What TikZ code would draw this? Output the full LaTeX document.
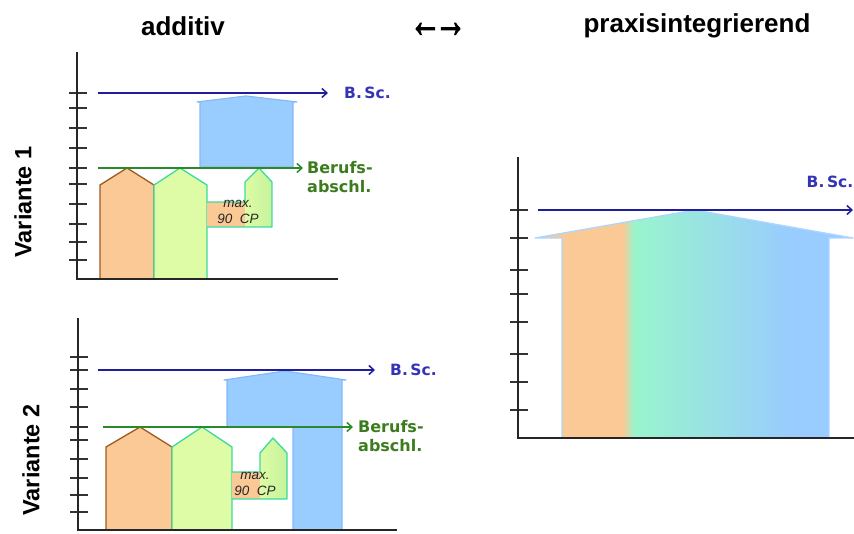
\documentclass[tikz,border=0pt]{standalone}
\usepackage{fontspec}
\setmainfont{Liberation Sans}
\newfontfamily\dejavu{DejaVu Sans}
\newfontfamily\arrowfont[FakeBold=2.5]{Liberation Sans}
\usetikzlibrary{arrows.meta}

\definecolor{peach}{HTML}{FBC995}
\definecolor{peachline}{HTML}{9C5A22}
\definecolor{lime}{HTML}{DDFCA5}
\definecolor{limedark}{HTML}{C6F29C}
\definecolor{limeline}{HTML}{3CDB9E}
\definecolor{mint}{HTML}{99F5CC}
\definecolor{sky}{HTML}{99CCFF}
\definecolor{skyline}{HTML}{84B8F8}
\definecolor{bscblue}{HTML}{1E1E9E}
\definecolor{bsctext}{HTML}{3434B4}
\definecolor{berufgreen}{HTML}{2A8A2A}
\definecolor{beruftext}{HTML}{3C7C1E}

\begin{document}
\begin{tikzpicture}[x=1pt,y=-1pt,
  axis/.style={line width=1.8pt, black!85},
  tick/.style={line width=1.6pt, black!80},
  bscline/.style={line width=1.5pt, bscblue, -{Straight Barb[length=5pt,width=9pt,line width=1.5pt]}},
  berufline/.style={line width=1.5pt, berufgreen, -{Straight Barb[length=5pt,width=9pt,line width=1.5pt]}},
  title/.style={font=\bfseries\fontsize{26}{30}\selectfont, inner sep=0pt},
  variante/.style={font=\bfseries\fontsize{23.5}{28}\selectfont, rotate=90, inner sep=0pt},
  bsclabel/.style={font=\dejavu\bfseries\fontsize{15.5}{18}\selectfont, text=bsctext, inner sep=0pt},
  beruflabel/.style={font=\dejavu\bfseries\fontsize{16}{19}\selectfont, text=beruftext, align=left, anchor=west, inner sep=0pt},
  cplabel/.style={font=\itshape\fontsize{13.5}{16}\selectfont, text=black!85, align=center, inner sep=0pt},
  orangehouse/.style={fill=peach, draw=peachline, line width=1.3pt, line join=round},
  greenhouse/.style={fill=lime, draw=limeline, line width=1.3pt, line join=round},
  bluehouse/.style={fill=sky, draw=skyline, line width=1.2pt, line join=round},
  smallline/.style={draw=limeline, line width=1.3pt, line join=round}
]
\useasboundingbox (0,0) rectangle (854,534);

% titles
\node[title] (additiv) at (183,26) {additiv};
\node[font=\arrowfont\fontsize{48}{52}\selectfont, inner sep=0pt, xscale=0.66] (swap) at (438,30) {←\kern-10pt→};
\node[title] (praxis) at (697,26) {praxisintegrierend};

\node[variante] (var1) at (23,202) {Variante 1};
\node[variante] (var2) at (31,460) {Variante 2};

% Variante 1
\coordinate (v1top) at (77,52);
\coordinate (v1o) at (77,279);
\coordinate (v1end) at (338,279);
\foreach \y in {93,108,128,148,168,184,204,224,242,260}
  \draw[tick] (69,\y) -- (87,\y);

\draw[bluehouse] (200,167) -- (200,102) -- (197,102) -- (246,96) -- (297,102)
  -- (293,102) -- (293,167) -- cycle;
\draw[orangehouse] (100,279) -- (100,185) -- (127,168) -- (154,185) -- (154,279) -- cycle;
\draw[greenhouse] (154,279) -- (154,185) -- (180,168) -- (207,185) -- (207,279) -- cycle;
\fill[peach] (207,202) rectangle (245,227);
\shade[left color=lime, right color=limedark] (245,227) -- (245,182) -- (259,168)
  -- (272,182) -- (272,227) -- cycle;
\draw[smallline] (207,202) -- (245,202) -- (245,182) -- (259,168) -- (272,182)
  -- (272,227) -- (207,227);
\node[cplabel] (cp1) at (238,212) {max.\\90~~CP};

\draw[axis] (v1top) -- (v1o) -- (v1end);

\coordinate (bsc1a) at (98,93);
\coordinate (bsc1b) at (328,93);
\node[bsclabel, anchor=west] (bsc1) at (344,93) {B.\,Sc.};
\draw[bscline] (bsc1a) -- (bsc1b);
\coordinate (beruf1a) at (98,168);
\coordinate (beruf1b) at (303,168);
\node[beruflabel] (beruf1) at (307,177.5) {Berufs-\\abschl.};
\draw[berufline] (beruf1a) -- (beruf1b);

% Variante 2
\coordinate (v2top) at (78,318);
\coordinate (v2o) at (78,530);
\coordinate (v2end) at (397,530);
\foreach \y in {357,370,389,407,427,440,459,478,495,512}
  \draw[tick] (70,\y) -- (88,\y);

\draw[bluehouse] (227,427) -- (227,380) -- (224,380) -- (285,371) -- (346,380)
  -- (342,380) -- (342,530) -- (293,530) -- (293,427) -- cycle;
\draw[orangehouse] (106,530) -- (106,447) -- (140,427) -- (172,447) -- (172,530) -- cycle;
\draw[greenhouse] (172,530) -- (172,447) -- (202,427) -- (232,447) -- (232,530) -- cycle;
\fill[peach] (232,472) rectangle (260,499);
\shade[left color=lime, right color=limedark] (260,499) -- (260,453) -- (273,438)
  -- (287,453) -- (287,499) -- cycle;
\draw[smallline] (232,472) -- (260,472) -- (260,453) -- (273,438) -- (287,453)
  -- (287,499) -- (232,499);
\node[cplabel] (cp2) at (255,484) {max.\\90~~CP};

\draw[axis] (v2top) -- (v2o) -- (v2end);

\coordinate (bsc2a) at (98,370);
\coordinate (bsc2b) at (375,370);
\node[bsclabel, anchor=west] (bsc2) at (390,370) {B.\,Sc.};
\draw[bscline] (bsc2a) -- (bsc2b);
\coordinate (beruf2a) at (103,427);
\coordinate (beruf2b) at (353,427);
\node[beruflabel] (beruf2) at (358,436.5) {Berufs-\\abschl.};
\draw[berufline] (beruf2a) -- (beruf2b);

% praxisintegrierend
\coordinate (p3top) at (518,157);
\coordinate (p3o) at (518,438);
\coordinate (p3end) at (854,438);
\foreach \y in {210,238,270,294,322,354,382,410}
  \draw[tick] (510,\y) -- (528,\y);

\begin{scope}
  \clip (562,438) -- (562,238) -- (535,238) -- (695,210) -- (853,238)
    -- (829,238) -- (829,438) -- cycle;
  \fill[peach] (530,200) rectangle (623,440);
  \shade[left color=peach, right color=mint] (623,200) rectangle (634,440);
  \shade[left color=mint, right color=sky] (634,200) rectangle (790,440);
  \fill[sky] (790,200) rectangle (856,440);
\end{scope}
\draw[draw=sky!80!white, line width=1.3pt, line join=round]
  (562,438) -- (562,238) -- (535,238) -- (695,210) -- (853,238)
  -- (829,238) -- (829,438);

\draw[axis] (p3top) -- (p3o) -- (p3end);

\coordinate (bsc3a) at (538,210);
\coordinate (bsc3b) at (853,210);
\node[bsclabel] (bsc3) at (830,182) {B.\,Sc.};
\draw[bscline] (bsc3a) -- (bsc3b);
\end{tikzpicture}
\end{document}
